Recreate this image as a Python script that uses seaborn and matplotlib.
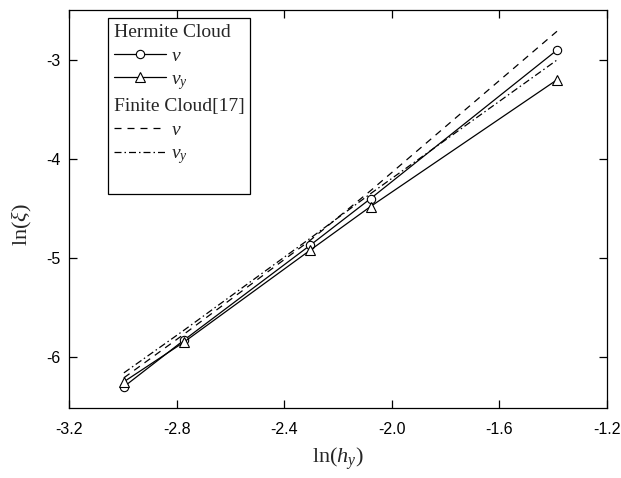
import matplotlib
matplotlib.use("Agg")
import matplotlib.pyplot as plt
import seaborn as sns
import numpy as np
from matplotlib.lines import Line2D

sns.set_theme(style="ticks")
plt.rcParams['font.family'] = ['Liberation Sans', 'DejaVu Sans']
plt.rcParams['mathtext.fontset'] = 'custom'
plt.rcParams['mathtext.rm'] = 'Liberation Serif'
plt.rcParams['mathtext.it'] = 'Liberation Serif:italic'

ln_h = [-2.996, -2.773, -2.303, -2.079, -1.386]
hermite_v = [-6.30, -5.83, -4.87, -4.40, -2.90]
hermite_vy = [-6.25, -5.85, -4.92, -4.48, -3.20]
finite_v = [-6.21, -5.77, -4.82, -4.32, -2.71]
finite_vy = [-6.16, -5.73, -4.80, -4.35, -3.00]

xticks = [-3.2, -2.8, -2.4, -2.0, -1.6, -1.2]
yticks = [-6, -5, -4, -3]

LW = 0.9
fig = plt.figure(figsize=(6.21, 4.78), dpi=100)
ax = fig.add_axes([0.1111, 0.1464, 0.8664, 0.8327])

sns.lineplot(x=ln_h, y=hermite_v, ax=ax, color='black', lw=LW, marker='o', markersize=6,
             markerfacecolor='white', markeredgecolor='black', markeredgewidth=0.8)
sns.lineplot(x=ln_h, y=hermite_vy, ax=ax, color='black', lw=LW, marker='^', markersize=7.5,
             markerfacecolor='white', markeredgecolor='black', markeredgewidth=0.8)
sns.lineplot(x=ln_h, y=finite_v, ax=ax, color='black', lw=LW, linestyle=(0, (5.6, 4.6)))
sns.lineplot(x=ln_h, y=finite_vy, ax=ax, color='black', lw=LW, linestyle=(0, (5.6, 2.4, 1.2, 2.4)))

ax.set_xlim(-3.2, -1.2)
ax.set_ylim(-6.515, -2.495)
ax.set_xticks(xticks)
ax.set_xticklabels([f"{t:.1f}" for t in xticks])
ax.set_yticks(yticks)
ax.set_yticklabels([str(t) for t in yticks])
ax.tick_params(direction='in', length=5.8, width=0.9, top=True, right=True,
               labelsize=11.5, colors='black')
ax.tick_params(axis='x', pad=10)
ax.tick_params(axis='y', pad=6)
ax.tick_params(labeltop=False, labelright=False)
for s in ax.spines.values():
    s.set_color('black')
    s.set_linewidth(0.9)

ax.set_xlabel(r'$\mathrm{ln(}h_{y}\mathrm{)}$', fontsize=16)
ax.set_ylabel(r'$\mathrm{ln(}\xi\mathrm{)}$', fontsize=16)
ax.xaxis.set_label_coords(0.5, -0.093)
ax.yaxis.set_label_coords(-0.065, 0.46)

blank = Line2D([], [], linestyle='none', marker=None)
handles = [
    blank,
    Line2D([], [], color='black', lw=LW, marker='o', markersize=6, markerfacecolor='white', markeredgecolor='black', markeredgewidth=0.8),
    Line2D([], [], color='black', lw=LW, marker='^', markersize=7.5, markerfacecolor='white', markeredgecolor='black', markeredgewidth=0.8),
    blank,
    Line2D([], [], color='black', lw=LW, linestyle=(0, (5.6, 4.8))),
    Line2D([], [], color='black', lw=LW, linestyle=(0, (5.6, 2.4, 1.2, 2.4))),
    blank,
]
labels = ['Hermite Cloud', r'$v$', r'$v_{y}$', 'Finite Cloud[17]', r'$v$', r'$v_{y}$', '\u00a0']
leg = ax.legend(handles, labels, loc='upper left', bbox_to_anchor=(0.0725, 0.98),
                borderaxespad=0, frameon=True, fancybox=False, edgecolor='black', framealpha=1,
                handlelength=2.7, handletextpad=0.25, labelspacing=0.3, borderpad=0.3,
                prop={'family': 'Liberation Serif', 'size': 14})
leg.get_frame().set_linewidth(0.9)

rows = []
for col in leg._legend_handle_box.get_children():
    rows.extend(col.get_children())
for i in (0, 3):
    hp = rows[i]
    da = hp.get_children()[0]
    da.width = 0
    hp.sep = 0
leg.get_texts()[6].set_fontsize(9)

fig.savefig('out.png', dpi=100)
